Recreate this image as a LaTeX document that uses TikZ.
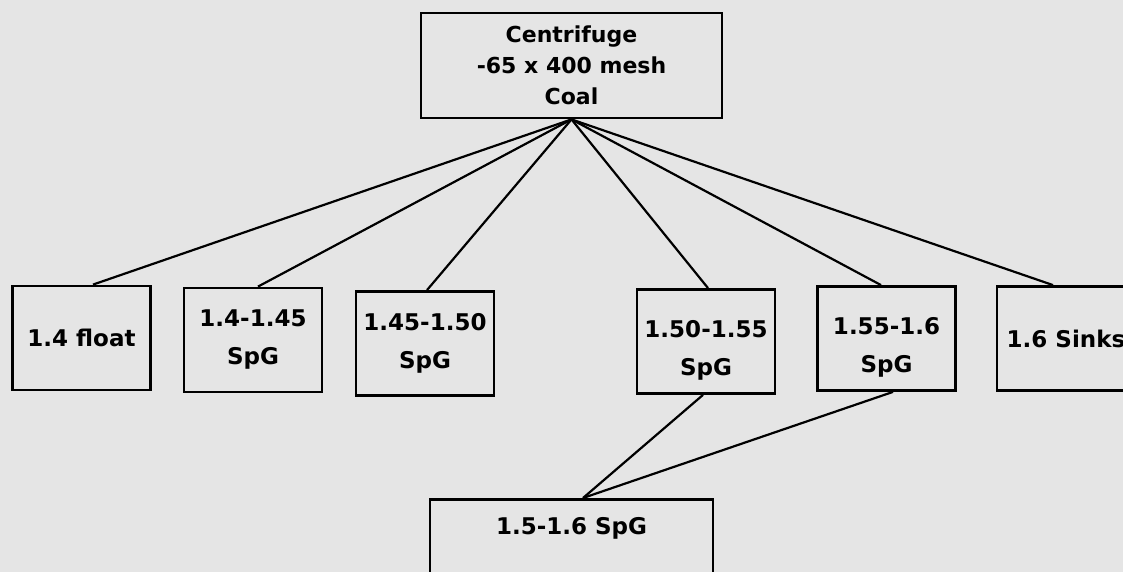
\documentclass[tikz,border=0pt]{standalone}
\usepackage{fontspec}
\setmainfont{DejaVu Sans}
\usetikzlibrary{calc}
\definecolor{paper}{gray}{0.9}

\tikzset{
  box/.style={draw, line width=1.4pt, fill=paper, align=center, inner sep=2pt},
  feedbox/.style={box, minimum width=150.5pt, minimum height=52.5pt,
    font=\bfseries\fontsize{11}{15.5}\selectfont},
  cutbox/.style={box, minimum width=69pt, minimum height=52pt,
    font=\bfseries\fontsize{11.5}{19}\selectfont},
  mixbox/.style={box, minimum width=141.5pt, inner ysep=9.5pt,
    text height=8pt, text depth=45pt, font=\bfseries\fontsize{11.5}{15}\selectfont},
  link/.style={line width=1.1pt}
}

\begin{document}
\begin{tikzpicture}[x=0.5pt,y=-0.5pt]
                \fill[paper] (0,0) rectangle (1123,572);
                \useasboundingbox (0,0) rectangle (1123,572);

                \node[feedbox] (feed) at (571.5,65.5) {Centrifuge\\-65 x 400 mesh\\Coal};

                \node[cutbox] (f14) at (81.5,338) {1.4 float};
                \node[cutbox] (s1) at (253,340) {1.4-1.45\\SpG};
                \node[cutbox] (s2) at (425,343.5) {1.45-1.50\\SpG};
                \node[cutbox, text height=36pt] (s3) at (706,341.5) {1.50-1.55\\SpG};
                \node[cutbox, text height=36pt] (s4) at (886.5,338.5) {1.55-1.6\\SpG};
                \node[cutbox] (sink) at (1066,338.5) {1.6 Sinks};

                \node[mixbox, anchor=north] (mix) at (571.5,498) {1.5-1.6 SpG};

                \draw[link] (feed.south) -- ([xshift=5.75pt]f14.north);
                \draw[link] (feed.south) -- ([xshift=2.5pt]s1.north);
                \draw[link] (feed.south) -- ([xshift=1pt]s2.north);
                \draw[link] (feed.south) -- ([xshift=1pt]s3.north);
                \draw[link] (feed.south) -- ([xshift=-2.75pt]s4.north);
                \draw[link] (feed.south) -- ([xshift=-6.5pt]sink.north);

                \draw[link] ([xshift=-1.5pt]s3.south) -- ([xshift=5.75pt]mix.north);
                \draw[link] ([xshift=3.25pt]s4.south) -- ([xshift=5.75pt]mix.north);
            \end{tikzpicture}
\end{document}
